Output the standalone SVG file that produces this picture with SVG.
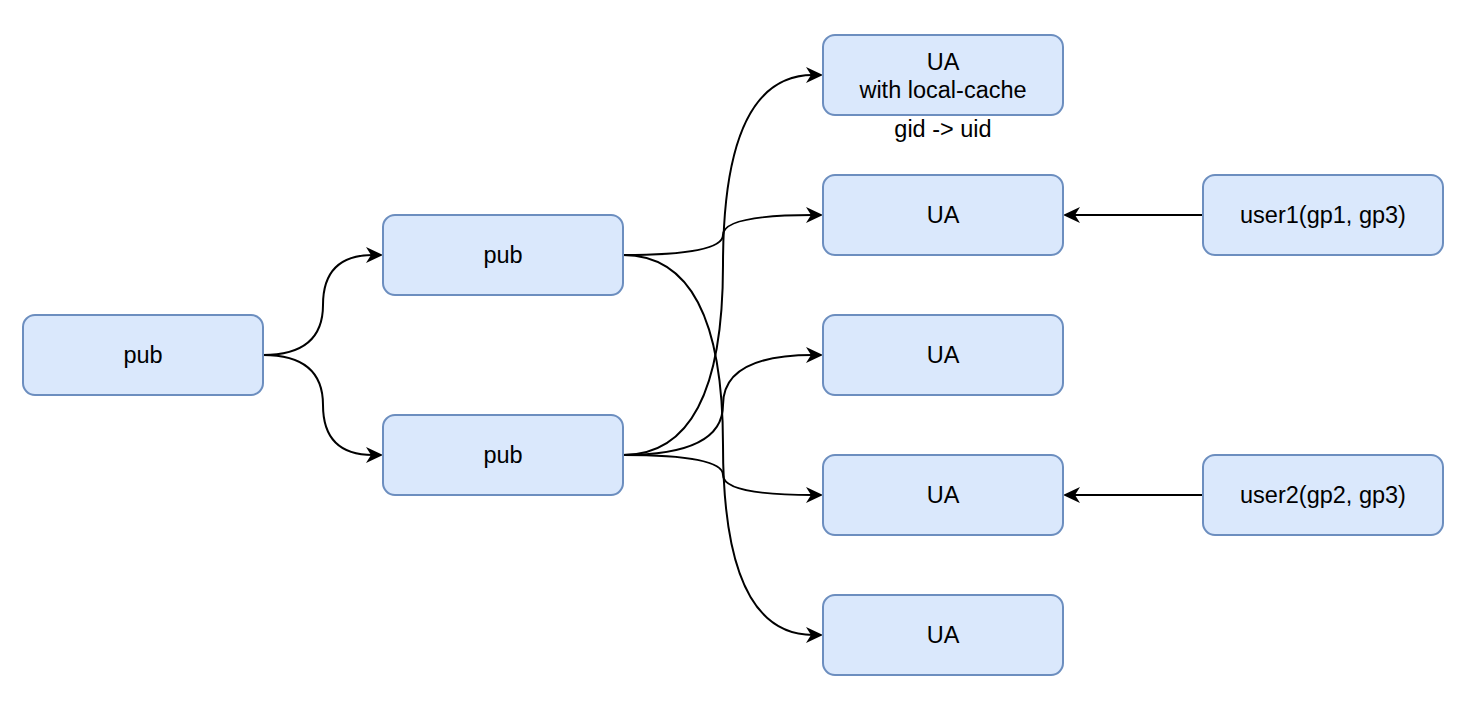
<svg xmlns="http://www.w3.org/2000/svg" width="1476" height="708" viewBox="0 0 1476 708">
<style>
.box{fill:#dae8fc;stroke:#6c8ebf;stroke-width:2}
.t{font-family:"Liberation Sans",Arial,sans-serif;font-size:23.5px;fill:#000;text-anchor:middle}
.e{fill:none;stroke:#000;stroke-width:2}
</style>
<defs>
<marker id="arr" markerUnits="userSpaceOnUse" markerWidth="18" markerHeight="18" viewBox="0 0 18 18" refX="7" refY="8" orient="auto">
<path d="M0,0 L17,8 L0,16 L5,8 z" fill="#000"/>
</marker>
</defs>
<rect width="1476" height="708" fill="#fff"/>
<g id="connectors">
<path class="e" marker-end="url(#arr)" d="M263 355 Q323 355 323 305 Q323 255 373 255"/>
<path class="e" marker-end="url(#arr)" d="M263 355 Q323 355 323 405 Q323 455 373 455"/>
<path class="e" marker-end="url(#arr)" d="M623 255 Q723 255 723 235 Q723 215 813 215"/>
<path class="e" marker-end="url(#arr)" d="M623 255 Q723 255 723 445 Q723 635 813 635"/>
<path class="e" marker-end="url(#arr)" d="M623 455 Q723 455 723 265 Q723 75 813 75"/>
<path class="e" marker-end="url(#arr)" d="M623 455 Q723 455 723 405 Q723 355 813 355"/>
<path class="e" marker-end="url(#arr)" d="M623 455 Q723 455 723 475 Q723 495 813 495"/>
<path class="e" marker-end="url(#arr)" d="M1203 215 L1073 215"/>
<path class="e" marker-end="url(#arr)" d="M1203 495 L1073 495"/>
</g>
<g id="pub0"><rect class="box" x="23" y="315" width="240" height="80" rx="12"/><text class="t" x="143" y="363">pub</text></g>
<g id="pub1"><rect class="box" x="383" y="215" width="240" height="80" rx="12"/><text class="t" x="503" y="263">pub</text></g>
<g id="pub2"><rect class="box" x="383" y="415" width="240" height="80" rx="12"/><text class="t" x="503" y="463">pub</text></g>
<g id="ua0"><rect class="box" x="823" y="35" width="240" height="80" rx="12"/><text class="t" x="943" y="70">UA</text><text class="t" x="943" y="98">with local-cache</text></g>
<g id="ua0label"><text class="t" x="943" y="137">gid -&gt; uid</text></g>
<g id="ua1"><rect class="box" x="823" y="175" width="240" height="80" rx="12"/><text class="t" x="943" y="223">UA</text></g>
<g id="ua2"><rect class="box" x="823" y="315" width="240" height="80" rx="12"/><text class="t" x="943" y="363">UA</text></g>
<g id="ua3"><rect class="box" x="823" y="455" width="240" height="80" rx="12"/><text class="t" x="943" y="503">UA</text></g>
<g id="ua4"><rect class="box" x="823" y="595" width="240" height="80" rx="12"/><text class="t" x="943" y="643">UA</text></g>
<g id="user1"><rect class="box" x="1203" y="175" width="240" height="80" rx="12"/><text class="t" x="1323" y="223">user1(gp1, gp3)</text></g>
<g id="user2"><rect class="box" x="1203" y="455" width="240" height="80" rx="12"/><text class="t" x="1323" y="503">user2(gp2, gp3)</text></g>
</svg>
